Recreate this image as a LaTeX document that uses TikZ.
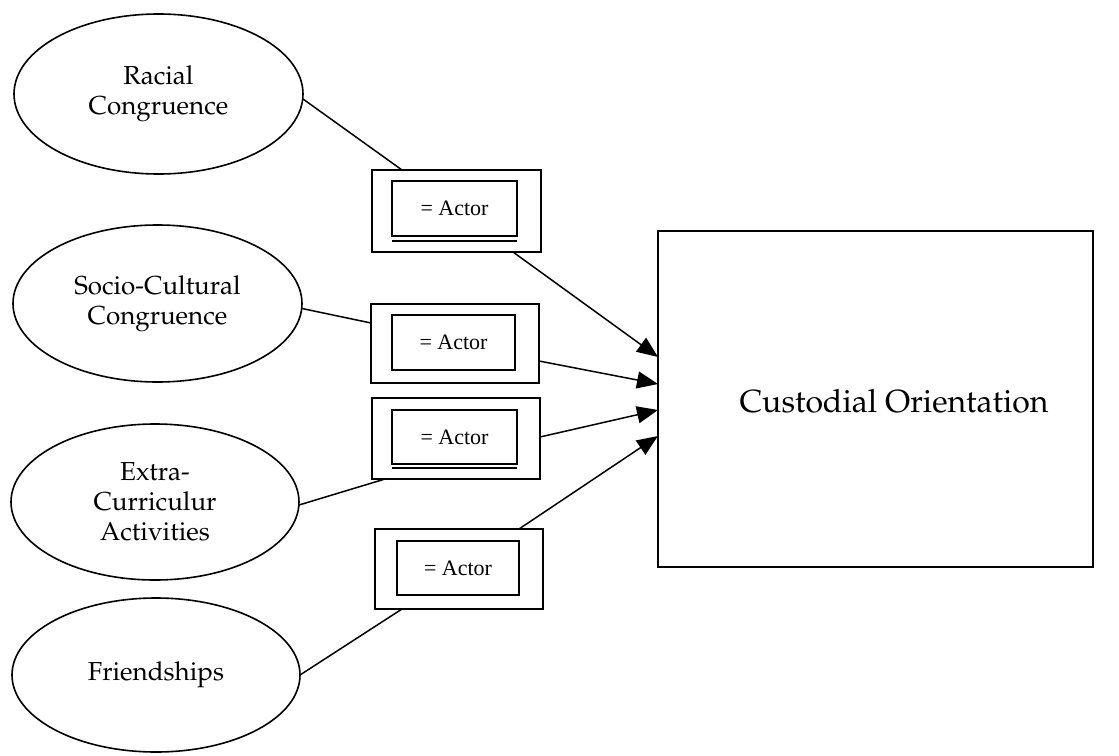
\documentclass[tikz,border=0pt]{standalone}
\usepackage[T1]{fontenc}
\usepackage{fontspec}
\setmainfont{Liberation Serif}
\usetikzlibrary{shapes.geometric,arrows.meta}
\newcommand\palfont{\fontencoding{T1}\fontfamily{ppl}\selectfont}
\begin{document}
\begin{tikzpicture}[x=1pt,y=-1pt,
  factor/.style={ellipse,draw,line width=1.6pt,inner sep=0pt,outer sep=0pt,
    align=center,font=\palfont\fontsize{26}{30}\selectfont},
  outerbox/.style={rectangle,draw,line width=1.7pt,inner sep=0pt,outer sep=0pt},
  innerbox/.style={rectangle,draw,line width=1.4pt,inner sep=0pt,outer sep=0pt,
    font=\fontsize{22}{26}\selectfont},
  link/.style={line width=1.5pt},
  flow/.style={line width=1.5pt,-{Triangle[length=21pt,width=17pt]}}]
\fill[white] (0,0) rectangle (1119,755);
\useasboundingbox (0,0) rectangle (1119,755);

% latent factors
\node[factor,minimum width=289pt,minimum height=160pt] (e1) at (158.5,94) {Racial\\Congruence};
\node[factor,minimum width=289pt,minimum height=157pt] (e2) at (157.5,303.5) {Socio-Cultural\\Congruence};
\node[factor,minimum width=288pt,minimum height=156pt] (e3) at (155,502) {Extra-\\Curriculur\\Activities};
\node[factor,minimum width=288pt,minimum height=154pt] (e4) at (156,675) {Friendships};

% actor boxes
\node[outerbox,minimum width=169pt,minimum height=82pt] (b1) at (456.5,211) {};
\node[innerbox,minimum width=125pt,minimum height=55pt] (in1) at (454.5,208.5) {= Actor};
\node[outerbox,minimum width=168pt,minimum height=79pt] (b2) at (455,343.5) {};
\node[innerbox,minimum width=123pt,minimum height=55pt] (in2) at (453.5,342.5) {= Actor};
\node[outerbox,minimum width=168pt,minimum height=81pt] (b3) at (456,438.5) {};
\node[innerbox,minimum width=125pt,minimum height=54pt] (in3) at (454.5,437) {= Actor};
\node[outerbox,minimum width=168pt,minimum height=80pt] (b4) at (459,569) {};
\node[innerbox,minimum width=122pt,minimum height=54pt] (in4) at (458,568) {= Actor};

% second rule under the first and third inner boxes
\draw[line width=1.4pt] ([yshift=-5pt]in1.south west) -- ([yshift=-5pt]in1.south east);
\draw[line width=1.4pt] ([yshift=-4pt]in3.south west) -- ([yshift=-4pt]in3.south east);

% outcome
\node[rectangle,draw,line width=1.7pt,inner sep=0pt,outer sep=0pt,
  minimum width=435pt,minimum height=336pt] (co) at (875.5,399) {};
\node[font=\palfont\fontsize{32}{36}\selectfont] (colabel) at (894,401) {Custodial Orientation};

% factor to actor links
\draw[link] ([yshift=-5pt]e1.east) -- ([xshift=30pt]b1.north west);
\draw[link] ([yshift=-5pt]e2.east) -- ([yshift=-19pt]b2.north west);
\draw[link] ([yshift=-3pt]e3.east) -- ([xshift=13pt]b3.south west);
\draw[link] (e4.east) -- ([xshift=27pt]b4.south west);

% actor to outcome paths
\draw[flow] ([xshift=141pt]b1.south west) -- ([yshift=-126pt]co.north west);
\draw[flow] ([yshift=-57pt]b2.north east) -- ([yshift=-153pt]co.north west);
\draw[flow] ([yshift=-39pt]b3.north east) -- ([yshift=-179pt]co.north west);
\draw[flow] ([xshift=144pt]b4.north west) -- ([yshift=-205pt]co.north west);
\end{tikzpicture}
\end{document}
